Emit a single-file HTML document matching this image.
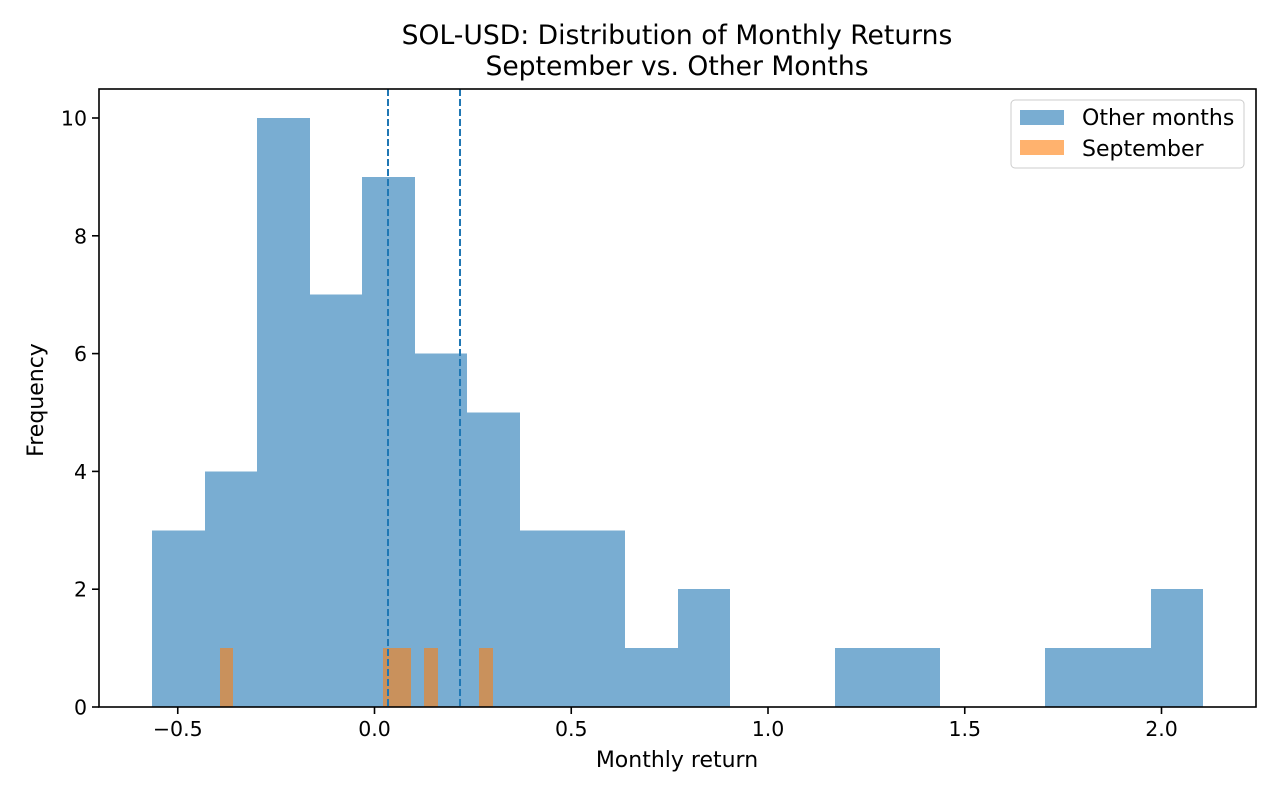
<!DOCTYPE html>
<html><head><meta charset="utf-8"><style>
html,body{margin:0;padding:0;background:#fff;}
svg{display:block;font-family:"DejaVu Sans","Liberation Sans",sans-serif;}
</style></head><body>
<svg id="chart" width="1280" height="800" xmlns="http://www.w3.org/2000/svg">
<text x="677" y="44" text-anchor="middle" font-size="26.6" fill="#000">SOL-USD: Distribution of Monthly Returns</text>
<text x="677" y="75" text-anchor="middle" font-size="26.6" fill="#000">September vs. Other Months</text>
<g id="bars-other" shape-rendering="crispEdges"></g>
<g id="bars-sep" shape-rendering="crispEdges"></g>
<g id="vlines"></g>
<g id="axes"></g>
<text x="677" y="767" text-anchor="middle" font-size="22">Monthly return</text>
<text transform="translate(43,400) rotate(-90)" text-anchor="middle" font-size="22">Frequency</text>
<g>
<rect x="1011" y="100" width="233" height="68" rx="4" fill="#fff" fill-opacity="0.8" stroke="#ccc"/>
<rect x="1020" y="110" width="44" height="15" fill="#1f77b4" fill-opacity="0.6"/>
<text x="1082" y="125" font-size="22">Other months</text>
<rect x="1020" y="140" width="44" height="15" fill="#ff7f0e" fill-opacity="0.6"/>
<text x="1082" y="156" font-size="22">September</text>
</g>
</svg>
<script>
const otherStart = -0.5654;
const otherWidth = 0.13355;
const otherCounts = [3,4,10,7,9,6,5,3,3,1,2,0,0,1,1,0,0,1,1,2];
const sepStart = -0.3936;
const sepWidth = 0.0347;
const sepCounts = [1,0,0,0,0,0,0,0,0,0,0,0,1,1,0,1,0,0,0,1];
const meanLines = [0.0343, 0.2173];
const xTicks = [-0.5,0.0,0.5,1.0,1.5,2.0];
const xTickLabels = ["\u22120.5","0.0","0.5","1.0","1.5","2.0"];
const yTicks = [0,2,4,6,8,10];

const L=99,R=1256,T=89,B=707;
const x = v => 374.5 + v*393.5;
const y = v => 707 - v*58.9;
const NS="http://www.w3.org/2000/svg";
function mk(tag, attrs, parent){const e=document.createElementNS(NS,tag);for(const k in attrs)e.setAttribute(k,attrs[k]);parent.appendChild(e);return e;}

const g1=document.getElementById('bars-other');
otherCounts.forEach((c,i)=>{ if(!c) return;
  const x0=Math.round(x(otherStart+i*otherWidth)), x1=Math.round(x(otherStart+(i+1)*otherWidth));
  const r=mk('rect',{x:x0,y:y(c),width:x1-x0,height:y(0)-y(c),fill:'#1f77b4','fill-opacity':0.6},g1);
  
  
});
const g2=document.getElementById('bars-sep');
sepCounts.forEach((c,i)=>{ if(!c) return;
  const x0=Math.round(x(sepStart+i*sepWidth)), x1=Math.round(x(sepStart+(i+1)*sepWidth));
  const r=mk('rect',{x:x0,y:y(c),width:x1-x0,height:y(0)-y(c),fill:'#ff7f0e','fill-opacity':0.6},g2);
  
  
});
const g3=document.getElementById('vlines');
meanLines.forEach((v,i)=>{
  const l=mk('line',{x1:x(v),x2:x(v),y1:T,y2:B,stroke:'#1f77b4','stroke-width':2,'stroke-dasharray':'7,3'},g3);
  
  
});
const ga=document.getElementById('axes');
mk('rect',{x:L,y:T,width:R-L,height:B-T,fill:'none',stroke:'#000','stroke-width':1.6},ga);
xTicks.forEach((v,i)=>{
  mk('line',{x1:x(v),x2:x(v),y1:B,y2:B+7,stroke:'#000','stroke-width':1.6},ga);
  const t=mk('text',{x:x(v),y:B+29,'text-anchor':'middle','font-size':20.5},ga);
  t.textContent=xTickLabels[i];
  
  
});
yTicks.forEach(v=>{
  mk('line',{x1:L-7,x2:L,y1:y(v),y2:y(v),stroke:'#000','stroke-width':1.6},ga);
  const t=mk('text',{x:L-12,y:y(v)+7.5,'text-anchor':'end','font-size':20.5},ga);
  t.textContent=String(v);
  
  
});
</script>
</body></html>
